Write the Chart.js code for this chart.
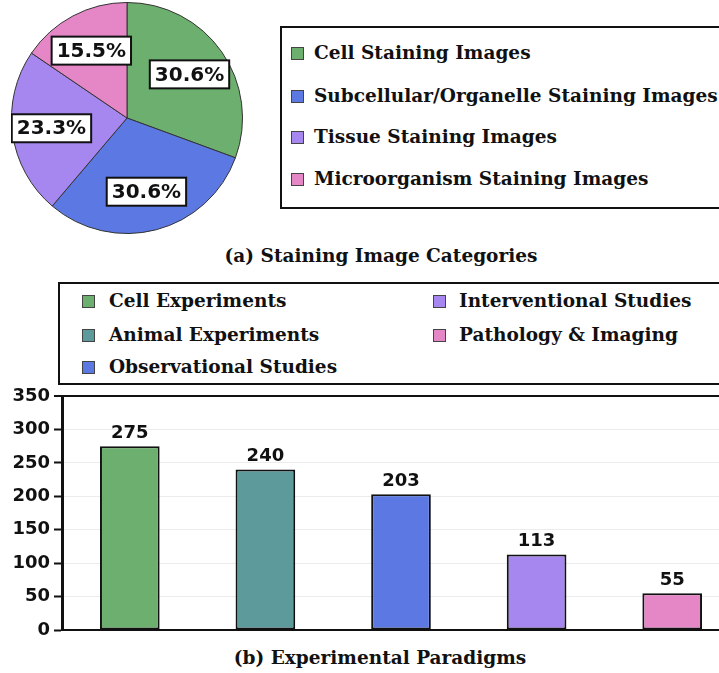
<!DOCTYPE html>
<html>
<head>
<meta charset="utf-8">
<script src="https://cdn.jsdelivr.net/npm/chart.js@4.4.1/dist/chart.umd.min.js"></script>
<style>
  html, body { margin: 0; padding: 0; background: #fff; overflow: hidden; }
  #page { position: relative; width: 760px; height: 673px; }
  .serif { font-family: 'DejaVu Serif', serif; font-weight: bold; color: #111; }
  .legend { position: absolute; border: 2px solid #111; box-sizing: border-box; background: #fff; }
  .item { position: absolute; font-size: 18.5px; white-space: nowrap; line-height: 1; }
  .sw { position: absolute; width: 13px; height: 13px; border: 1px solid #444; box-sizing: border-box; }
  .caption { position: absolute; font-size: 18.5px; white-space: nowrap; transform: translate(-50%, -50%); }
</style>
</head>
<body>
<div id="page">
  <div style="position:absolute; left:11px; top:2px; width:232px; height:232px;"><canvas id="pieChart"></canvas></div>
  <div id="pieLegend" class="legend serif" style="left:280px; top:26px; width:470px; height:183px;"></div>
  <div class="caption serif" style="left:381px; top:255px;">(a) Staining Image Categories</div>

  <div id="barLegend" class="legend serif" style="left:58px; top:282px; width:700px; height:103px;"></div>
  <div style="position:absolute; left:0; top:380px; width:740px; height:266px;"><canvas id="barChart"></canvas></div>
  <div class="caption serif" style="left:380px; top:657px;">(b) Experimental Paradigms</div>
</div>
<script>
// (a) staining image categories
const pieLabels = ['Cell Staining Images', 'Subcellular/Organelle Staining Images', 'Tissue Staining Images', 'Microorganism Staining Images'];
const pieValues = [30.6, 30.6, 23.3, 15.5];
const pieColors = ['#6daf6e', '#5b78e3', '#a686ef', '#e587c6'];

// (b) experimental paradigms
const barLabels = ['Cell Experiments', 'Animal Experiments', 'Observational Studies', 'Interventional Studies', 'Pathology & Imaging'];
const barValues = [275, 240, 203, 113, 55];
const barColors = ['#6daf6e', '#5c9a9b', '#5b78e3', '#a686ef', '#e587c6'];
const yTicks = [0, 50, 100, 150, 200, 250, 300, 350];

const numFont = "'DejaVu Sans', sans-serif";

// html legends
function buildLegend(el, labels, colors, spots) {
  labels.forEach(function (lab, i) {
    const p = spots[i];
    const sw = document.createElement('div');
    sw.className = 'sw';
    sw.style.left = p[0] + 'px';
    sw.style.top = (p[1] - 7) + 'px';
    sw.style.background = colors[i];
    el.appendChild(sw);
    const tx = document.createElement('div');
    tx.className = 'item';
    tx.style.left = (p[0] + p[2]) + 'px';
    tx.style.top = (p[1] - 10) + 'px';
    tx.textContent = lab;
    el.appendChild(tx);
  });
}
buildLegend(document.getElementById('pieLegend'), pieLabels, pieColors,
  [[9, 26, 23], [9, 69, 23], [9, 110, 23], [9, 152, 23]]);
buildLegend(document.getElementById('barLegend'), barLabels, barColors,
  [[22, 18, 27], [22, 52, 27], [22, 84, 27], [373, 18, 26], [373, 52, 26]]);

// boxed percentage labels on the pie
const pctBoxes = {
  id: 'pctBoxes',
  afterDatasetsDraw(chart) {
    const ctx = chart.ctx;
    const arcs = chart.getDatasetMeta(0).data;
    ctx.save();
    ctx.font = 'bold 20px ' + numFont;
    ctx.textAlign = 'center';
    ctx.textBaseline = 'middle';
    arcs.forEach(function (arc, i) {
      const mid = (arc.startAngle + arc.endAngle) / 2;
      const r = arc.outerRadius * 0.66;
      const x = arc.x + Math.cos(mid) * r;
      const y = arc.y + Math.sin(mid) * r;
      const txt = pieValues[i].toFixed(1) + '%';
      const w = ctx.measureText(txt).width + 10;
      const h = 28;
      ctx.fillStyle = '#fff';
      ctx.fillRect(x - w / 2, y - h / 2, w, h);
      ctx.lineWidth = 2;
      ctx.strokeStyle = '#111';
      ctx.strokeRect(x - w / 2, y - h / 2, w, h);
      ctx.fillStyle = '#111';
      ctx.fillText(txt, x, y + 1);
    });
    ctx.restore();
  }
};

new Chart(document.getElementById('pieChart'), {
  type: 'pie',
  data: {
    labels: pieLabels,
    datasets: [{
      data: pieValues,
      backgroundColor: pieColors,
      borderColor: '#333',
      borderWidth: 1
    }]
  },
  options: {
    responsive: true,
    maintainAspectRatio: false,
    animation: false,
    plugins: { legend: { display: false }, tooltip: { enabled: false } }
  },
  plugins: [pctBoxes]
});

// value labels above bars
const barValuesPlugin = {
  id: 'barValues',
  afterDatasetsDraw(chart) {
    const ctx = chart.ctx;
    ctx.save();
    ctx.font = 'bold 18px ' + numFont;
    ctx.fillStyle = '#111';
    ctx.textAlign = 'center';
    ctx.textBaseline = 'bottom';
    chart.getDatasetMeta(0).data.forEach(function (bar, i) {
      ctx.fillText(String(barValues[i]), bar.x, bar.y - 4);
    });
    ctx.restore();
  }
};

new Chart(document.getElementById('barChart'), {
  type: 'bar',
  data: {
    labels: barLabels,
    datasets: [{
      data: barValues,
      backgroundColor: barColors,
      borderColor: '#111',
      borderWidth: 2,
      borderSkipped: false,
      barPercentage: 0.44,
      categoryPercentage: 1
    }]
  },
  options: {
    responsive: true,
    maintainAspectRatio: false,
    animation: false,
    layout: { padding: { top: 16, bottom: 0, left: 0, right: 0 } },
    plugins: { legend: { display: false }, tooltip: { enabled: false } },
    scales: {
      x: {
        afterFit(scale) { scale.height = 16; },
        ticks: { display: false },
        grid: { display: false },
        border: { color: '#111', width: 2 }
      },
      y: {
        min: 0,
        max: 350,
        afterFit(scale) { scale.width = 62; },
        afterBuildTicks(scale) { scale.ticks = yTicks.map(v => ({ value: v })); },
        ticks: {
          color: '#111',
          padding: 4,
          font: { family: numFont, size: 18, weight: 'bold' }
        },
        grid: {
          color: ctx => ctx.tick && ctx.tick.value === 350 ? '#111' : '#ececec',
          lineWidth: ctx => ctx.tick && ctx.tick.value === 350 ? 2 : 1,
          tickColor: '#111',
          tickLength: 8,
          tickWidth: 2
        },
        border: { color: '#111', width: 3 }
      }
    }
  },
  plugins: [barValuesPlugin]
});
</script>
</body>
</html>
